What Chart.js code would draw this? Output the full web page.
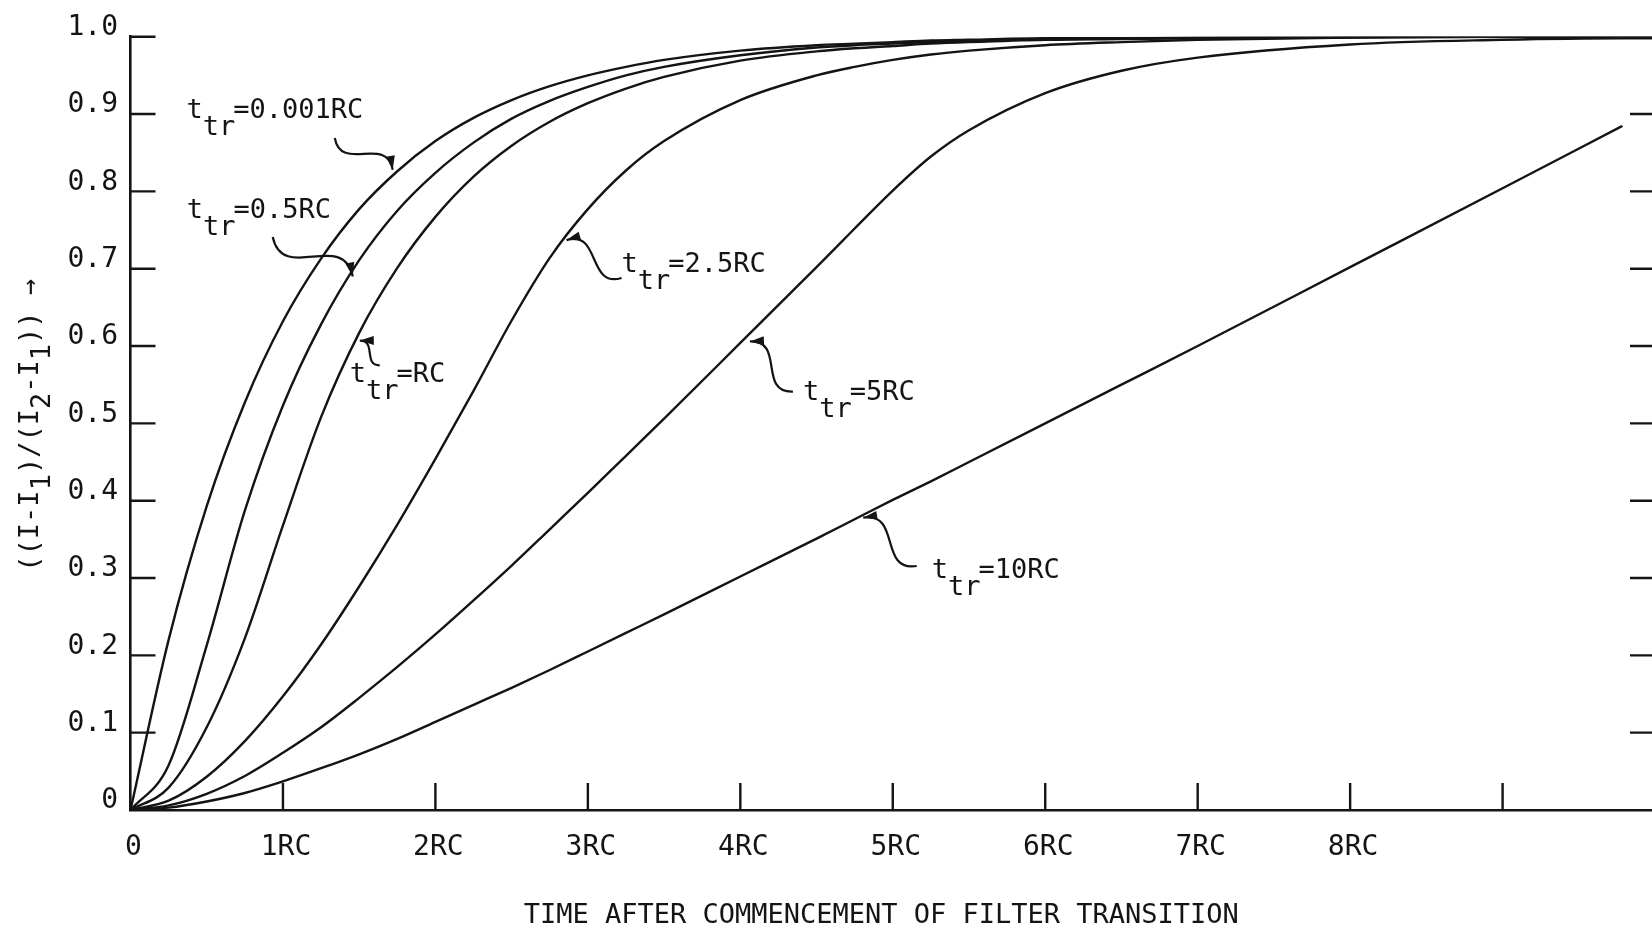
<!DOCTYPE html>
<html>
<head>
<meta charset="utf-8">
<script src="https://cdn.jsdelivr.net/npm/chart.js@4.4.1/dist/chart.umd.min.js"></script>
<style>
  body { margin: 0; background: #fff; }
  canvas { display: block; }
</style>
</head>
<body>
<canvas id="chart-filter-transition" width="1652" height="930"></canvas>
<script>
// time after the filter starts to move, in units of RC
const time_rc = [0, 0.25, 0.5, 0.75, 1, 1.25, 1.5, 1.75, 2, 2.25, 2.5, 2.75, 3, 3.25, 3.5, 4, 4.5, 4.75, 5, 5.25, 5.5, 6, 6.5, 7, 8, 9, 9.78, 10];

// normalised output (I-I1)/(I2-I1) for each transition time t_tr
const ttr_0001rc = [0, 0.22, 0.393, 0.527, 0.632, 0.713, 0.777, 0.826, 0.865, 0.895, 0.918, 0.936, 0.95, 0.961, 0.97, 0.982, 0.989, 0.991, 0.993, 0.995, 0.996, 0.998, 0.998, 0.999, 1, 1, 1, 1];
const ttr_05rc   = [0, 0.058, 0.213, 0.387, 0.523, 0.628, 0.711, 0.775, 0.824, 0.863, 0.894, 0.917, 0.935, 0.95, 0.961, 0.976, 0.986, 0.989, 0.991, 0.993, 0.995, 0.997, 0.998, 0.999, 1, 1, 1, 1];
const ttr_1rc    = [0, 0.029, 0.107, 0.222, 0.368, 0.508, 0.617, 0.701, 0.767, 0.819, 0.859, 0.89, 0.914, 0.933, 0.948, 0.969, 0.981, 0.985, 0.988, 0.991, 0.993, 0.996, 0.997, 0.998, 0.999, 1, 1, 1];
const ttr_25rc   = [0, 0.012, 0.043, 0.089, 0.147, 0.214, 0.289, 0.369, 0.454, 0.542, 0.633, 0.714, 0.777, 0.827, 0.865, 0.918, 0.95, 0.961, 0.97, 0.977, 0.982, 0.989, 0.993, 0.996, 0.999, 1, 1, 1];
const ttr_5rc    = [0, 0.006, 0.021, 0.044, 0.074, 0.107, 0.145, 0.185, 0.227, 0.271, 0.316, 0.363, 0.41, 0.458, 0.506, 0.604, 0.702, 0.752, 0.801, 0.845, 0.879, 0.927, 0.956, 0.973, 0.99, 0.996, 0.998, 0.998];
const ttr_10rc   = [0, 0.003, 0.011, 0.022, 0.037, 0.054, 0.072, 0.092, 0.114, 0.136, 0.158, 0.181, 0.205, 0.229, 0.253, 0.302, 0.351, 0.376, 0.401, 0.425, 0.45, 0.5, 0.55, 0.6, 0.702, 0.804, 0.884, null];

const curve_names = ["0.001RC", "0.5RC", "RC", "2.5RC", "5RC", "10RC"];
const curve_values = [ttr_0001rc, ttr_05rc, ttr_1rc, ttr_25rc, ttr_5rc, ttr_10rc];

const y_ticks = [0, 0.1, 0.2, 0.3, 0.4, 0.5, 0.6, 0.7, 0.8, 0.9, 1.0];
const x_ticks = [0, 1, 2, 3, 4, 5, 6, 7, 8, 9];
const x_tick_labels = ["0", "1RC", "2RC", "3RC", "4RC", "5RC", "6RC", "7RC", "8RC", ""];

const x_title = "TIME AFTER COMMENCEMENT OF FILTER TRANSITION";
// y title pieces, second field marks a lowered subscript
const y_title_parts = [["((I-I", 0], ["1", 1], [")/(I", 0], ["2", 1], ["-I", 0], ["1", 1], [")) \u2192", 0]];

const ink = "#141414";
const type_face = "'DejaVu Sans Mono', monospace";

// where each "t_tr=..." note sits (data units): text start, squiggle tail, arrow head
const note_spots = [
  { text: [0.367, 0.895], tail: [1.34, 0.869], head: [1.72, 0.828], bend: 1 },
  { text: [0.369, 0.766], tail: [0.933, 0.741], head: [1.458, 0.69], bend: 1 },
  { text: [1.438, 0.553], tail: [1.635, 0.575], head: [1.504, 0.607], bend: -1 },
  { text: [3.221, 0.696], tail: [3.221, 0.688], head: [2.86, 0.737], bend: -1 },
  { text: [4.411, 0.530], tail: [4.345, 0.541], head: [4.063, 0.606], bend: -1 },
  { text: [5.255, 0.300], tail: [5.157, 0.3155], head: [4.806, 0.378], bend: -1 }
];

const data_transition = {
  datasets: curve_values.map((vals, i) => ({
    label: "t_tr=" + curve_names[i],
    data: time_rc.map((t, k) => ({ x: t, y: vals[k] })),
    borderColor: ink,
    borderWidth: 2.4,
    borderCapStyle: "round",
    pointRadius: 0,
    cubicInterpolationMode: "monotone",
    spanGaps: false
  }))
};

// tick marks: inward on the left and bottom, short stubs on the right edge
const axis_marks = {
  id: "axisMarks",
  afterDatasetsDraw(chart) {
    const { ctx, chartArea, scales: { x, y } } = chart;
    ctx.save();
    ctx.strokeStyle = ink;
    ctx.lineWidth = 2.4;
    ctx.beginPath();
    y_ticks.slice(1).forEach(v => {
      const py = y.getPixelForValue(v);
      ctx.moveTo(chartArea.left, py);
      ctx.lineTo(chartArea.left + 25, py);
      if (v < 1) {
        ctx.moveTo(chartArea.right - 22, py);
        ctx.lineTo(chartArea.right, py);
      }
    });
    x_ticks.slice(1).forEach(v => {
      const px = x.getPixelForValue(v);
      ctx.moveTo(px, chartArea.bottom);
      ctx.lineTo(px, chartArea.bottom - 27);
    });
    ctx.stroke();
    ctx.restore();
  }
};

// axis titles: rotated y title with lowered subscripts, x title under the labels
const axis_titles = {
  id: "axisTitles",
  afterDraw(chart) {
    const { ctx, chartArea } = chart;
    ctx.save();
    ctx.font = "27px " + type_face;
    ctx.fillStyle = ink;
    ctx.textBaseline = "alphabetic";

    ctx.textAlign = "center";
    ctx.fillText(x_title, (chartArea.left + chartArea.right) / 2 - 10, chart.height - 7);

    ctx.textAlign = "left";
    const total = y_title_parts.reduce((w, p) => w + ctx.measureText(p[0]).width, 0);
    ctx.translate(28, (chartArea.top + chartArea.bottom) / 2 + 2);
    ctx.rotate(-Math.PI / 2);
    let cx = -total / 2;
    y_title_parts.forEach(([s, sub]) => {
      ctx.fillText(s, cx, sub ? 22 : 10);
      cx += ctx.measureText(s).width;
    });
    ctx.restore();
  }
};

function squiggle(ctx, p0, p1, bend) {
  const dx = p1[0] - p0[0], dy = p1[1] - p0[1];
  const len = Math.hypot(dx, dy);
  const nx = -dy / len, ny = dx / len;
  const w = 0.42 * len * bend;
  const c1 = [p0[0] + dx / 3 + nx * w, p0[1] + dy / 3 + ny * w];
  const c2 = [p0[0] + 2 * dx / 3 - nx * w, p0[1] + 2 * dy / 3 - ny * w];
  ctx.beginPath();
  ctx.moveTo(p0[0], p0[1]);
  ctx.bezierCurveTo(c1[0], c1[1], c2[0], c2[1], p1[0], p1[1]);
  ctx.stroke();
  // arrow head along the last tangent
  const ax = p1[0] - c2[0], ay = p1[1] - c2[1];
  const al = Math.hypot(ax, ay);
  const ux = ax / al, uy = ay / al;
  ctx.beginPath();
  ctx.moveTo(p1[0], p1[1]);
  ctx.lineTo(p1[0] - ux * 14 - uy * 4.5, p1[1] - uy * 14 + ux * 4.5);
  ctx.lineTo(p1[0] - ux * 14 + uy * 4.5, p1[1] - uy * 14 - ux * 4.5);
  ctx.closePath();
  ctx.fill();
}

// "t_tr=..." notes with curly leader arrows
const curve_notes = {
  id: "curveNotes",
  afterDatasetsDraw(chart) {
    const { ctx, scales: { x, y } } = chart;
    const px = p => [x.getPixelForValue(p[0]), y.getPixelForValue(p[1])];
    ctx.save();
    ctx.font = "27px " + type_face;
    ctx.fillStyle = ink;
    ctx.strokeStyle = ink;
    ctx.lineWidth = 2.2;
    ctx.textBaseline = "alphabetic";
    note_spots.forEach((n, i) => {
      const [tx, ty] = px(n.text);
      ctx.fillText("t", tx, ty);
      const wt = ctx.measureText("t").width;
      ctx.fillText("tr", tx + wt, ty + 17);
      const wtr = ctx.measureText("tr").width;
      ctx.fillText("=" + curve_names[i], tx + wt + wtr - 2, ty);
      squiggle(ctx, px(n.tail), px(n.head), n.bend);
    });
    ctx.restore();
  }
};

const tick_font = { family: type_face, size: 28 };

const config_transition = {
  type: "line",
  data: data_transition,
  plugins: [axis_marks, axis_titles, curve_notes],
  options: {
    responsive: false,
    animation: false,
    devicePixelRatio: 1,
    layout: { padding: { top: 36.7, right: 0, bottom: 0, left: 0 } },
    plugins: {
      legend: { display: false },
      tooltip: { enabled: false }
    },
    scales: {
      x: {
        type: "linear",
        min: 0,
        max: 9.98,
        afterBuildTicks: s => { s.ticks = x_ticks.map(v => ({ value: v })); },
        afterFit: s => { s.height = 120; },
        grid: { display: false, drawTicks: false },
        border: { display: true, color: ink, width: 2.6 },
        ticks: {
          callback: (v, i) => x_tick_labels[i],
          color: ink,
          font: tick_font,
          padding: 21,
          labelOffset: 3,
          maxRotation: 0,
          autoSkip: false
        }
      },
      y: {
        type: "linear",
        min: 0,
        max: 1,
        afterBuildTicks: s => { s.ticks = y_ticks.map(v => ({ value: v })); },
        afterFit: s => { s.width = 130.5; },
        grid: { display: false, drawTicks: false },
        border: { display: true, color: ink, width: 2.6 },
        ticks: {
          callback: v => (v === 0 ? "0" : v.toFixed(1)),
          color: ink,
          font: tick_font,
          padding: 12.5,
          labelOffset: -9
        }
      }
    }
  }
};

new Chart(document.getElementById("chart-filter-transition"), config_transition);
</script>
</body>
</html>
